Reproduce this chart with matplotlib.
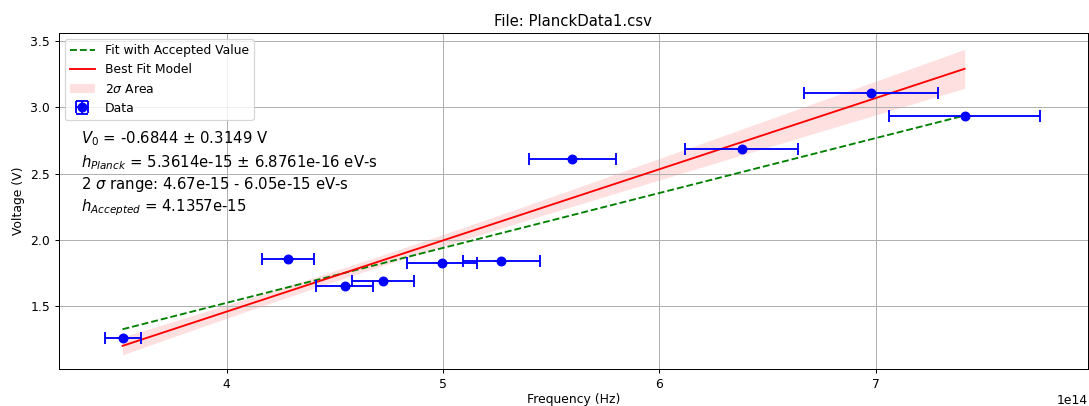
import numpy as np
import matplotlib
matplotlib.use("Agg")
import matplotlib.pyplot as plt

# ---- data (frequency in units of 1e14 Hz, voltage in V) ----
freq_1e14 = [3.519, 4.284, 4.545, 4.722, 4.995, 5.270, 5.597, 6.379, 6.977, 7.410]
freq_err_1e14 = [0.083, 0.120, 0.133, 0.143, 0.163, 0.180, 0.200, 0.262, 0.310, 0.350]
voltage = [1.262, 1.853, 1.650, 1.688, 1.825, 1.843, 2.612, 2.687, 3.105, 2.935]

# fit parameters
V0_fit = -0.6844
V0_err = 0.3149
h_fit = 5.3614e-15
h_err = 6.8761e-16
h_range = [4.67e-15, 6.05e-15]
h_accepted = 4.1357e-15
V0_accepted = -0.128
# 2-sigma band shape parameters (half width = sqrt(a^2 + (b*(f-f0))^2))
band_a = 0.04
band_b = 0.0503      # per 1e14 Hz
band_f0 = 4.6        # 1e14 Hz

f = np.array(freq_1e14) * 1e14
ferr = np.array(freq_err_1e14) * 1e14
V = np.array(voltage)

W, H, DPI = 1089, 406, 89.3
fig = plt.figure(figsize=(W / DPI, H / DPI), dpi=DPI)
ax = fig.add_axes([58.7 / W, 1 - 369 / H, (1088 - 58.7) / W, (369 - 33) / H])

fl = np.linspace(f.min(), f.max(), 200)
best = h_fit * fl + V0_fit
acc = h_accepted * fl + V0_accepted
half = np.sqrt(band_a ** 2 + (band_b * (fl / 1e14 - band_f0)) ** 2)

ax.plot(fl, acc, 'g--', lw=1.5, label='Fit with Accepted Value')
ax.plot(fl, best, 'r-', lw=1.5, label='Best Fit Model')
ax.fill_between(fl, best - half, best + half, color='r', alpha=0.12, lw=0,
                label=r'2$\sigma$ Area')
ax.errorbar(f, V, xerr=ferr, yerr=np.zeros_like(V), fmt='bo', ms=7,
            capsize=5, elinewidth=1.5, capthick=1.5, label='Data')

ax.set_xlim(3.224e14, 7.98e14)
ax.set_ylim(1.028, 3.558)
ax.grid(True)
ax.set_title('File: PlanckData1.csv', fontsize=12)
ax.set_xlabel('Frequency (Hz)', fontsize=10, labelpad=1.5)
ax.set_ylabel('Voltage (V)', fontsize=10)
ax.tick_params(labelsize=10)
ax.legend(loc='upper left', fontsize=10)

lines = [
    r'$V_0$ = %.4f $\pm$ %.4f V' % (V0_fit, V0_err),
    r'$h_{Planck}$ = %.4e $\pm$ %.4e eV-s' % (h_fit, h_err),
    r'2 $\sigma$ range: %.2e - %.2e eV-s' % (h_range[0], h_range[1]),
    r'$h_{Accepted}$ = %.4e' % h_accepted,
]
ys = [0.6717, 0.6003, 0.5348, 0.4682]
for t, y in zip(lines, ys):
    ax.text(0.0214, y, t, transform=ax.transAxes, fontsize=12, va='baseline')

fig.savefig('out.png', dpi=DPI)
